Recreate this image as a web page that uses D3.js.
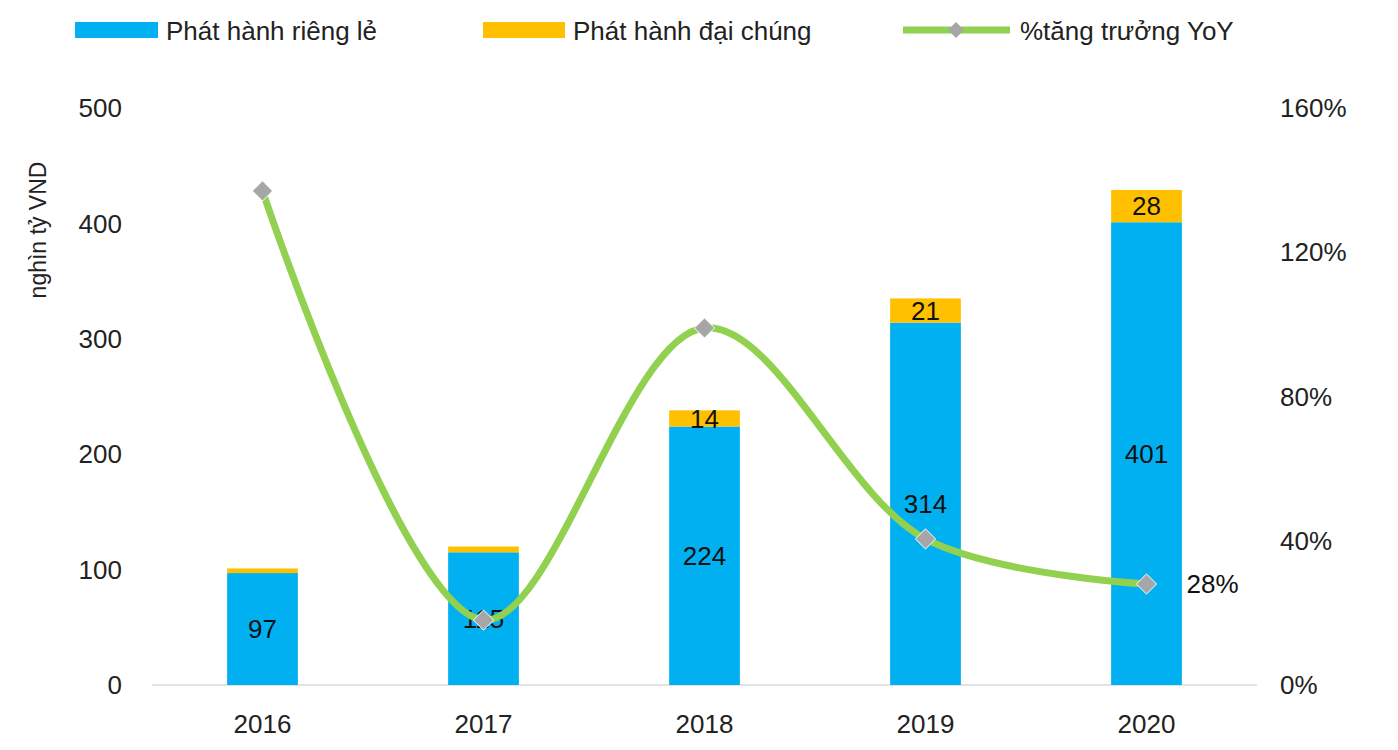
<!DOCTYPE html>
<html><head><meta charset="utf-8">
<script src="https://cdn.jsdelivr.net/npm/d3@7"></script>
<style>body{margin:0;background:#fff}text{font-family:Arial,"Liberation Sans",sans-serif}</style>
</head><body><svg id="c" width="1398" height="750"></svg>
<script>
const years = ["2016", "2017", "2018", "2019", "2020"];
const privateIssue = [97, 115, 224, 314, 401];
const publicIssue = [4, 5, 14, 21, 28];
const growthYoY = [1.37, 0.18, 0.99, 0.405, 0.28];
const leftTicks = [0, 100, 200, 300, 400, 500];
const rightTicks = [0, 0.4, 0.8, 1.2, 1.6];

const svg = d3.select("#c");
const plotTop = 108, plotBottom = 685;
const x = d3.scaleBand().domain(years).range([152, 1257]).paddingInner(0.68).paddingOuter(0.34);
const y = d3.scaleLinear().domain([0, 500]).range([plotBottom, plotTop]);
const y2 = d3.scaleLinear().domain([0, 1.6]).range([plotBottom, plotTop]);
const fs = "26px";

// baseline
svg.append("line").attr("x1", 152).attr("x2", 1257).attr("y1", plotBottom).attr("y2", plotBottom)
  .attr("stroke", "#d9d9d9").attr("stroke-width", 1.5);

// left axis
svg.selectAll(".lt").data(leftTicks).enter().append("text")
  .attr("x", 122).attr("y", d => y(d)).attr("dy", "0.35em").attr("text-anchor", "end")
  .attr("font-size", fs).attr("fill", "#222").text(d => d);
svg.append("text").attr("transform", "translate(46,230) rotate(-90)")
  .attr("text-anchor", "middle").attr("font-size", "23px").attr("fill", "#222").text("nghìn tỷ VND");

// right axis
svg.selectAll(".rt").data(rightTicks).enter().append("text")
  .attr("x", 1280).attr("y", d => y2(d)).attr("dy", "0.35em")
  .attr("font-size", fs).attr("fill", "#222").text(d => Math.round(d * 100) + "%");

// x labels
svg.selectAll(".xt").data(years).enter().append("text")
  .attr("x", d => x(d) + x.bandwidth() / 2).attr("y", 724).attr("dy", "0.35em")
  .attr("text-anchor", "middle").attr("font-size", fs).attr("fill", "#222").text(d => d);

// bars
years.forEach((yr, i) => {
  const p = privateIssue[i], q = publicIssue[i];
  svg.append("rect").attr("x", x(yr)).attr("width", x.bandwidth())
    .attr("y", y(p)).attr("height", y(0) - y(p)).attr("fill", "#00B0F0");
  svg.append("rect").attr("x", x(yr)).attr("width", x.bandwidth())
    .attr("y", y(p + q)).attr("height", y(p) - y(p + q)).attr("fill", "#FFC000");
  svg.append("text").attr("x", x(yr) + x.bandwidth() / 2).attr("y", y(p / 2)).attr("dy", "0.35em")
    .attr("text-anchor", "middle").attr("font-size", fs).attr("fill", "#111").text(p);
  if (q >= 10) svg.append("text").attr("x", x(yr) + x.bandwidth() / 2).attr("y", y(p + q / 2)).attr("dy", "0.35em")
    .attr("text-anchor", "middle").attr("font-size", fs).attr("fill", "#111").text(q);
});

// growth line
const pts = years.map((yr, i) => [x(yr) + x.bandwidth() / 2, y2(growthYoY[i])]);
svg.append("path").attr("d", d3.line().curve(d3.curveCatmullRom.alpha(0.5))(pts))
  .attr("fill", "none").attr("stroke", "#92D050").attr("stroke-width", 7);
const diamond = d3.symbol().type(d3.symbolDiamond2).size(260);
svg.selectAll(".pt").data(pts).enter().append("path")
  .attr("d", diamond).attr("transform", d => `translate(${d[0]},${d[1]})`)
  .attr("fill", "#A6A6A6").attr("stroke", "#fff").attr("stroke-width", 1);
const last = pts[pts.length - 1];
svg.append("text").attr("x", last[0] + 40).attr("y", last[1]).attr("dy", "0.35em")
  .attr("font-size", fs).attr("fill", "#111").text(Math.round(growthYoY[4] * 100) + "%");

// legend
const lg = svg.append("g");
lg.append("rect").attr("x", 75).attr("y", 22).attr("width", 83).attr("height", 16).attr("fill", "#00B0F0");
lg.append("text").attr("x", 166).attr("y", 31).attr("dy", "0.35em").attr("font-size", fs).attr("fill", "#222").text("Phát hành riêng lẻ");
lg.append("rect").attr("x", 483).attr("y", 22).attr("width", 82).attr("height", 16).attr("fill", "#FFC000");
lg.append("text").attr("x", 573).attr("y", 31).attr("dy", "0.35em").attr("font-size", fs).attr("fill", "#222").text("Phát hành đại chúng");
lg.append("line").attr("x1", 903).attr("x2", 1010).attr("y1", 30).attr("y2", 30).attr("stroke", "#92D050").attr("stroke-width", 7);
lg.append("path").attr("d", d3.symbol().type(d3.symbolDiamond2).size(160)).attr("transform", "translate(956,30)").attr("fill", "#A6A6A6");
lg.append("text").attr("x", 1020).attr("y", 31).attr("dy", "0.35em").attr("font-size", fs).attr("fill", "#222").text("%tăng trưởng YoY");
</script></body></html>
